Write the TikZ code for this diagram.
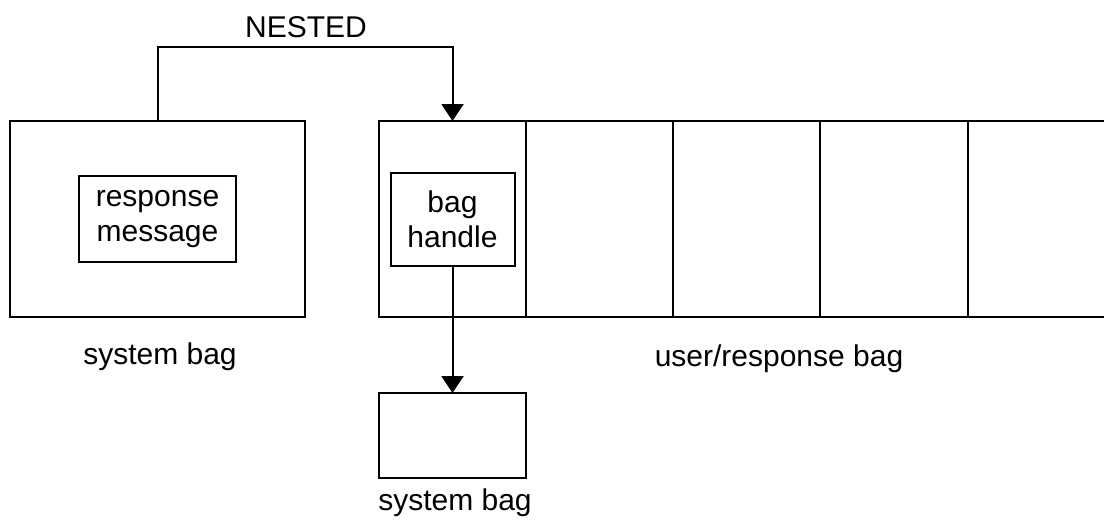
\documentclass[tikz,border=0pt]{standalone}
\usepackage{fontspec}
\setmainfont{Liberation Sans}
\usetikzlibrary{arrows.meta}
\begin{document}
\begin{tikzpicture}[x=1pt,y=-1pt,
  box/.style={draw,line width=2pt,inner sep=0pt,outer sep=0pt},
  lbl/.style={font=\fontsize{30}{35}\selectfont,inner sep=0pt},
  arr/.style={line width=2pt,-{Triangle[length=17pt,width=22pt]}}]
\useasboundingbox (0,0) rectangle (1104,520);
\node[box,minimum width=295pt,minimum height=196pt,anchor=north west] (sys) at (10,121) {};
\node[box,lbl,minimum width=157pt,minimum height=86pt,align=center] (resp) at (sys.center) {response\\message};
\node[box,minimum width=147pt,minimum height=196pt,anchor=north west] (c1) at (379,121) {};
\node[box,minimum width=147pt,minimum height=196pt,anchor=north west] (c2) at (526,121) {};
\node[box,minimum width=147pt,minimum height=196pt,anchor=north west] (c3) at (673,121) {};
\node[box,minimum width=148pt,minimum height=196pt,anchor=north west] (c4) at (820,121) {};
\node[box,minimum width=148pt,minimum height=196pt,anchor=north west] (c5) at (968,121) {};
\node[box,lbl,minimum width=124pt,minimum height=93pt,align=center] (handle) at (c1.center) {bag\\handle};
\node[box,minimum width=147pt,minimum height=85pt,anchor=north west] (sub) at (379,393) {};
\coordinate (bend) at (157.5,47);
\draw[arr] (sys.north) -- (bend) -| (c1.north);
\draw[arr] (handle.south) -- (sub.north);
\node[lbl] (nested) at (306,27) {NESTED};
\node[lbl] (syslbl) at (160,357) {system bag};
\node[lbl] (userlbl) at (779,359) {user/response bag};
\node[lbl] (sublbl) at (455,503) {system bag};
\end{tikzpicture}
\end{document}
